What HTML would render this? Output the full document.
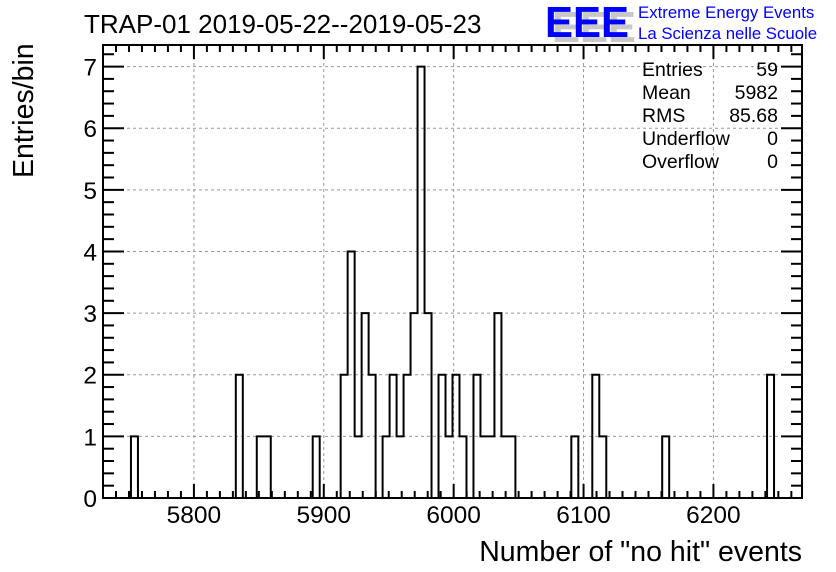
<!DOCTYPE html>
<html><head><meta charset="utf-8"><style>
body{margin:0;background:#fff;}
svg{display:block;font-family:"Liberation Sans",sans-serif;}
</style></head><body>
<svg id="chart" width="836" height="572" viewBox="0 0 836 572">
  <rect x="0" y="0" width="836" height="572" fill="#fff"/>
  <g id="grid"></g>
  <g id="bars"></g>
  <g id="axes"></g>
  <text x="84" y="33" font-size="26" fill="#000">TRAP-01 2019-05-22--2019-05-23</text>
  <g>
    <text x="552" y="42" font-size="44" font-weight="bold" fill="#c8c8c8" textLength="84" lengthAdjust="spacingAndGlyphs">EEE</text>
    <text x="545" y="37" font-size="44" font-weight="bold" fill="#0000ff" textLength="84" lengthAdjust="spacingAndGlyphs">EEE</text>
    <text x="638" y="18" font-size="16.8" fill="#0000ff">Extreme Energy Events</text>
    <text x="638" y="39" font-size="16.8" fill="#0000ff">La Scienza nelle Scuole</text>
  </g>
  <g font-size="19.5" fill="#000">
    <text x="642" y="76">Entries</text><text x="778" y="76" text-anchor="end">59</text>
    <text x="642" y="99">Mean</text><text x="778" y="99" text-anchor="end">5982</text>
    <text x="642" y="122">RMS</text><text x="778" y="122" text-anchor="end">85.68</text>
    <text x="642" y="145">Underflow</text><text x="778" y="145" text-anchor="end">0</text>
    <text x="642" y="168">Overflow</text><text x="778" y="168" text-anchor="end">0</text>
  </g>
  <text x="802" y="561" font-size="28.5" text-anchor="end">Number of "no hit" events</text>
  <text transform="translate(33,178) rotate(-90)" font-size="28.5">Entries/bin</text>
</svg>
<script>
const binIndices=[4,19,22,23,30,34,35,36,37,38,40,41,42,43,44,45,46,48,49,50,51,53,54,55,56,57,58,67,70,71,80,95];
const binCounts=[1,2,1,1,1,2,4,1,3,2,1,2,1,2,3,7,3,2,1,2,1,2,1,1,3,1,1,1,2,1,1,2];
const xTickLabels=[5800,5900,6000,6100,6200];
const yTickLabels=[0,1,2,3,4,5,6,7];
const NBINS=100, XMIN=5730, XMAX=6268.2, YMAX=7.35;
const L=103,R=802,T=45,B=498;
const NS="http://www.w3.org/2000/svg";
function sx(v){return L+(v-XMIN)/(XMAX-XMIN)*(R-L);}
function sy(v){return B-v/YMAX*(B-T);}
function binX(i){return sx(XMIN+i*(XMAX-XMIN)/NBINS);}
function mk(tag,attrs,parent){const e=document.createElementNS(NS,tag);for(const k in attrs)e.setAttribute(k,attrs[k]);parent.appendChild(e);return e;}
const grid=document.getElementById('grid'),bars=document.getElementById('bars'),axes=document.getElementById('axes');
xTickLabels.forEach(v=>{const l=mk('line',{x1:sx(v),x2:sx(v),y1:T,y2:B,stroke:'#999','stroke-dasharray':'3,3','stroke-width':1},grid);

});
yTickLabels.forEach(v=>{if(v===0)return;const l=mk('line',{x1:L,x2:R,y1:sy(v),y2:sy(v),stroke:'#999','stroke-dasharray':'3,3','stroke-width':1},grid);

});
const counts=new Array(NBINS).fill(0);
binIndices.forEach((b,k)=>{counts[b]=binCounts[k];});
let d='M'+binX(0)+','+sy(0);
for(let i=0;i<NBINS;i++){d+=' L'+binX(i)+','+sy(counts[i])+' L'+binX(i+1)+','+sy(counts[i]);}
d+=' L'+binX(NBINS)+','+sy(0);
const p=mk('path',{d:d,fill:'none',stroke:'#000','stroke-width':2},bars);


const fr=mk('rect',{x:L,y:T,width:R-L,height:B-T,fill:'none',stroke:'#000','stroke-width':2},axes);


for(let v=5730;v<=6260;v+=10){const maj=v%100===0;const x=sx(v);const len=maj?14:7;
mk('line',{x1:x,x2:x,y1:B,y2:B-len,stroke:'#000','stroke-width':2},axes);
mk('line',{x1:x,x2:x,y1:T,y2:T+len,stroke:'#000','stroke-width':2},axes);}
xTickLabels.forEach(v=>{const t=mk('text',{x:sx(v),y:523,'font-size':24.5,'text-anchor':'middle'},axes);t.textContent=v;

});
for(let k=0;k<=36;k++){const v=k*0.2;if(v>YMAX)break;const maj=k%5===0;const y=sy(v);const len=maj?21:11;
mk('line',{x1:L,x2:L+len,y1:y,y2:y,stroke:'#000','stroke-width':2},axes);
mk('line',{x1:R,x2:R-len,y1:y,y2:y,stroke:'#000','stroke-width':2},axes);}
yTickLabels.forEach(v=>{const t=mk('text',{x:97,y:sy(v)+9,'font-size':24.5,'text-anchor':'end'},axes);t.textContent=v;

});
</script>
</body></html>
